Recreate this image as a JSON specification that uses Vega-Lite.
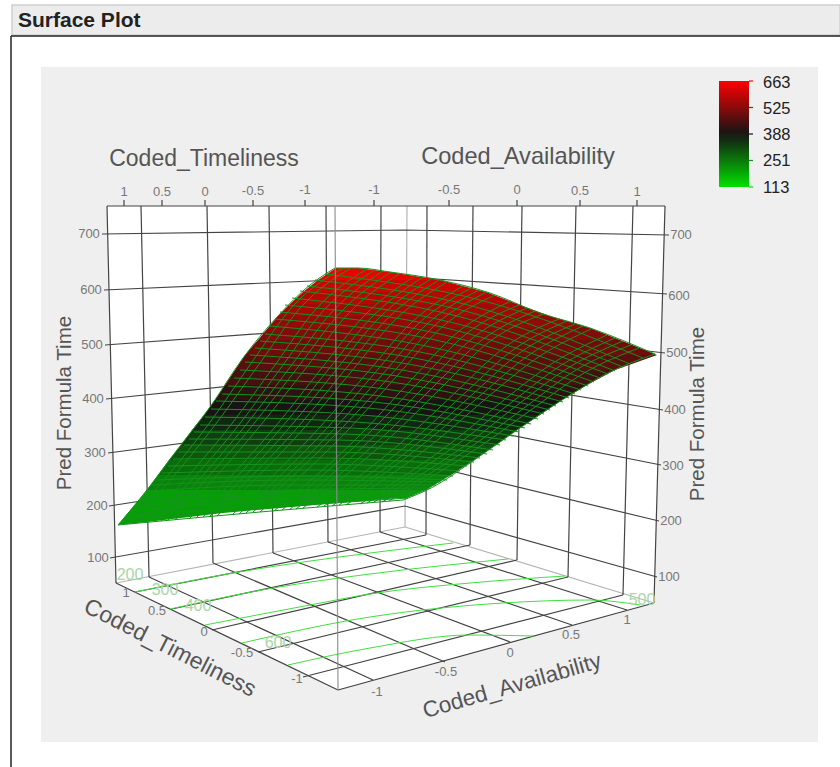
{
"$schema":"https://vega.github.io/schema/vega-lite/v6.json",
"width":840,"height":767,"padding":0,"autosize":{"type":"none"},
"background":"white",
"config":{"view":{"stroke":null},"font":"Liberation Sans"},
"datasets":{
"dark":[
{"x":116,"y":583,"x2":338,"y2":690},{"x":338,"y":690,"x2":654,"y2":603},{"x":107,"y":206,"x2":665,"y2":206},{"x":665,"y":206,"x2":654,"y2":603},{"x":107,"y":206,"x2":116,"y2":583},
{"x":141,"y":206,"x2":149,"y2":577},{"x":207,"y":206,"x2":213,"y2":563},{"x":269,"y":206,"x2":273,"y2":553},{"x":326,"y":206,"x2":328,"y2":542},{"x":381,"y":206,"x2":380,"y2":532},
{"x":427,"y":206,"x2":426,"y2":535},{"x":473,"y":206,"x2":470,"y2":545},{"x":522,"y":206,"x2":517,"y2":560},{"x":576,"y":206,"x2":568,"y2":577},{"x":633,"y":206,"x2":623,"y2":595},
{"x":373,"y":680,"x2":149,"y2":577},{"x":445,"y":662,"x2":213,"y2":563},{"x":510,"y":642,"x2":273,"y2":553},{"x":572,"y":625,"x2":328,"y2":542},{"x":627,"y":610,"x2":380,"y2":532},
{"x":135,"y":592,"x2":426,"y2":535},{"x":172,"y":609,"x2":470,"y2":545},{"x":212,"y":630,"x2":517,"y2":560},{"x":258,"y":652,"x2":568,"y2":577},{"x":303,"y":677,"x2":623,"y2":595},
{"x":124,"y":200,"x2":124,"y2":206},{"x":162,"y":200,"x2":162,"y2":206},{"x":205,"y":200,"x2":205,"y2":206},{"x":253,"y":200,"x2":253,"y2":206},{"x":305,"y":200,"x2":305,"y2":206},{"x":374,"y":200,"x2":374,"y2":206},{"x":449,"y":200,"x2":449,"y2":206},{"x":517,"y":200,"x2":517,"y2":206},{"x":580,"y":200,"x2":580,"y2":206},{"x":637,"y":200,"x2":637,"y2":206}
],
"wall":[
{"g":7,"x":102,"y":234},{"g":7,"x":405,"y":230},{"g":7,"x":669,"y":235},
{"g":6,"x":104,"y":290},{"g":6,"x":405,"y":277},{"g":6,"x":667,"y":294},
{"g":5,"x":105,"y":345},{"g":5,"x":405,"y":323},{"g":5,"x":665,"y":353},
{"g":4,"x":106,"y":399},{"g":4,"x":405,"y":368},{"g":4,"x":663,"y":410},
{"g":3,"x":108,"y":453},{"g":3,"x":405,"y":414},{"g":3,"x":661,"y":465},
{"g":2,"x":109,"y":506},{"g":2,"x":405,"y":460},{"g":2,"x":659,"y":521},
{"g":1,"x":110,"y":558},{"g":1,"x":405,"y":506},{"g":1,"x":657,"y":577}
],
"grey":[
{"x":407,"y":206,"x2":405,"y2":527},{"x":116,"y":583,"x2":405,"y2":527},{"x":405,"y":527,"x2":654,"y2":603}
],
"contour":[
{"g":200,"x":135,"y":592},{"g":200,"x":233,"y":573},{"g":200,"x":370,"y":553},{"g":200,"x":453,"y":543},
{"g":300,"x":170,"y":609},{"g":300,"x":273,"y":588},{"g":300,"x":370,"y":574},{"g":300,"x":508,"y":559},
{"g":400,"x":205,"y":625},{"g":400,"x":310,"y":605},{"g":400,"x":370,"y":594},{"g":400,"x":470,"y":583},{"g":400,"x":565,"y":576},
{"g":500,"x":242,"y":643},{"g":500,"x":370,"y":617},{"g":500,"x":503,"y":603},{"g":500,"x":590,"y":600},{"g":500,"x":640,"y":605},
{"g":600,"x":288,"y":665},{"g":600,"x":370,"y":648},{"g":600,"x":470,"y":635},{"g":600,"x":533,"y":636}
],
"bands":[
{"b":1,"v":640,"x":318,"y":280,"y2":280},{"b":1,"v":640,"x":336,"y":268,"y2":280},{"b":1,"v":640,"x":358,"y":268,"y2":280},{"b":1,"v":640,"x":390,"y":272,"y2":280},{"b":1,"v":640,"x":440,"y":280,"y2":280},
{"b":2,"v":600,"x":303,"y":292,"y2":292},{"b":2,"v":600,"x":318,"y":280,"y2":292},{"b":2,"v":600,"x":440,"y":280,"y2":292},{"b":2,"v":600,"x":486,"y":292,"y2":292},
{"b":3,"v":578,"x":290,"y":304,"y2":304},{"b":3,"v":578,"x":303,"y":292,"y2":304},{"b":3,"v":578,"x":486,"y":292,"y2":304},{"b":3,"v":578,"x":517,"y":304,"y2":304},
{"b":4,"v":558,"x":278,"y":316,"y2":316},{"b":4,"v":558,"x":290,"y":304,"y2":316},{"b":4,"v":558,"x":517,"y":304,"y2":316},{"b":4,"v":558,"x":550,"y":316,"y2":316},
{"b":5,"v":538,"x":268,"y":328,"y2":328},{"b":5,"v":538,"x":278,"y":316,"y2":328},{"b":5,"v":538,"x":550,"y":316,"y2":328},{"b":5,"v":538,"x":590,"y":328,"y2":328},
{"b":6,"v":517,"x":258,"y":340,"y2":340},{"b":6,"v":517,"x":268,"y":328,"y2":340},{"b":6,"v":517,"x":590,"y":328,"y2":340},{"b":6,"v":517,"x":620,"y":340,"y2":340},
{"b":7,"v":495,"x":245,"y":355,"y2":355},{"b":7,"v":495,"x":258,"y":340,"y2":355},{"b":7,"v":495,"x":620,"y":340,"y2":355},{"b":7,"v":495,"x":657,"y":355,"y2":355},
{"b":8,"v":470,"x":235,"y":370,"y2":370},{"b":8,"v":470,"x":245,"y":355,"y2":370},{"b":8,"v":470,"x":615,"y":355,"y2":370},{"b":8,"v":470,"x":657,"y":355,"y2":355},
{"b":9,"v":444,"x":225,"y":385,"y2":385},{"b":9,"v":444,"x":235,"y":370,"y2":385},{"b":9,"v":444,"x":587,"y":370,"y2":385},{"b":9,"v":444,"x":615,"y":370,"y2":370},
{"b":10,"v":419,"x":215,"y":400,"y2":400},{"b":10,"v":419,"x":225,"y":385,"y2":400},{"b":10,"v":419,"x":562,"y":385,"y2":400},{"b":10,"v":419,"x":587,"y":385,"y2":385},
{"b":11,"v":393,"x":204,"y":415,"y2":415},{"b":11,"v":393,"x":215,"y":400,"y2":415},{"b":11,"v":393,"x":540,"y":400,"y2":415},{"b":11,"v":393,"x":562,"y":400,"y2":400},
{"b":12,"v":363,"x":192,"y":430,"y2":430},{"b":12,"v":363,"x":204,"y":415,"y2":430},{"b":12,"v":363,"x":517,"y":415,"y2":430},{"b":12,"v":363,"x":540,"y":415,"y2":415},
{"b":13,"v":332,"x":181,"y":445,"y2":445},{"b":13,"v":332,"x":192,"y":430,"y2":445},{"b":13,"v":332,"x":496,"y":430,"y2":445},{"b":13,"v":332,"x":517,"y":430,"y2":430},
{"b":14,"v":301,"x":169,"y":460,"y2":460},{"b":14,"v":301,"x":181,"y":445,"y2":460},{"b":14,"v":301,"x":474,"y":445,"y2":460},{"b":14,"v":301,"x":496,"y":445,"y2":445},
{"b":15,"v":270,"x":158,"y":475,"y2":475},{"b":15,"v":270,"x":169,"y":460,"y2":475},{"b":15,"v":270,"x":451,"y":460,"y2":475},{"b":15,"v":270,"x":474,"y":460,"y2":460},
{"b":16,"v":239,"x":147,"y":490,"y2":490},{"b":16,"v":239,"x":158,"y":475,"y2":490},{"b":16,"v":239,"x":426,"y":475,"y2":490},{"b":16,"v":239,"x":451,"y":475,"y2":475},
{"b":17,"v":200,"x":118,"y":525,"y2":525},{"b":17,"v":200,"x":147,"y":490,"y2":522},{"b":17,"v":200,"x":223,"y":490,"y2":513},{"b":17,"v":200,"x":337,"y":490,"y2":503},{"b":17,"v":200,"x":400,"y":490,"y2":498},{"b":17,"v":200,"x":407,"y":490,"y2":498},{"b":17,"v":200,"x":426,"y":490,"y2":490}
],
"mesh":[
{"g":0,"x":118,"y":525},{"g":0,"x":260,"y":512},{"g":0,"x":403,"y":500},
{"g":1,"x":128,"y":514},{"g":1,"x":270,"y":503},{"g":1,"x":414,"y":495},
{"g":2,"x":138,"y":503},{"g":2,"x":281,"y":494},{"g":2,"x":425,"y":490},
{"g":3,"x":147,"y":491},{"g":3,"x":291,"y":485},{"g":3,"x":436,"y":485},
{"g":4,"x":157,"y":480},{"g":4,"x":302,"y":476},{"g":4,"x":447,"y":480},
{"g":5,"x":168,"y":466},{"g":5,"x":314,"y":464},{"g":5,"x":460,"y":471},
{"g":6,"x":179,"y":452},{"g":6,"x":326,"y":452},{"g":6,"x":474,"y":462},
{"g":7,"x":189,"y":439},{"g":7,"x":338,"y":440},{"g":7,"x":487,"y":454},
{"g":8,"x":200,"y":425},{"g":8,"x":350,"y":428},{"g":8,"x":500,"y":445},
{"g":9,"x":211,"y":409},{"g":9,"x":362,"y":415},{"g":9,"x":513,"y":436},
{"g":10,"x":222,"y":394},{"g":10,"x":374,"y":402},{"g":10,"x":525,"y":428},
{"g":11,"x":234,"y":378},{"g":11,"x":385,"y":389},{"g":11,"x":538,"y":419},
{"g":12,"x":245,"y":362},{"g":12,"x":397,"y":376},{"g":12,"x":550,"y":410},
{"g":13,"x":255,"y":348},{"g":13,"x":408,"y":364},{"g":13,"x":563,"y":402},
{"g":14,"x":265,"y":334},{"g":14,"x":420,"y":352},{"g":14,"x":575,"y":394},
{"g":15,"x":275,"y":319},{"g":15,"x":431,"y":339},{"g":15,"x":588,"y":386},
{"g":16,"x":285,"y":305},{"g":16,"x":442,"y":327},{"g":16,"x":600,"y":378},
{"g":17,"x":292,"y":298},{"g":17,"x":450,"y":322},{"g":17,"x":608,"y":374},
{"g":18,"x":300,"y":291},{"g":18,"x":457,"y":316},{"g":18,"x":615,"y":371},
{"g":19,"x":307,"y":286},{"g":19,"x":465,"y":311},{"g":19,"x":623,"y":367},
{"g":20,"x":315,"y":280},{"g":20,"x":472,"y":306},{"g":20,"x":630,"y":364},
{"g":22,"x":325,"y":274},{"g":22,"x":484,"y":301},{"g":22,"x":643,"y":358},
{"g":30,"x":123,"y":520},{"g":30,"x":265,"y":508},{"g":30,"x":408,"y":498},
{"g":31,"x":133,"y":508},{"g":31,"x":275,"y":498},{"g":31,"x":420,"y":492},
{"g":32,"x":142,"y":497},{"g":32,"x":286,"y":490},{"g":32,"x":430,"y":488},
{"g":33,"x":152,"y":485},{"g":33,"x":296,"y":480},{"g":33,"x":441,"y":482},
{"g":34,"x":162,"y":473},{"g":34,"x":308,"y":470},{"g":34,"x":453,"y":476},
{"g":35,"x":173,"y":459},{"g":35,"x":320,"y":458},{"g":35,"x":467,"y":466},
{"g":36,"x":184,"y":445},{"g":36,"x":332,"y":446},{"g":36,"x":480,"y":458},
{"g":37,"x":194,"y":432},{"g":37,"x":344,"y":434},{"g":37,"x":493,"y":450},
{"g":38,"x":205,"y":417},{"g":38,"x":356,"y":422},{"g":38,"x":506,"y":440},
{"g":39,"x":216,"y":401},{"g":39,"x":368,"y":408},{"g":39,"x":519,"y":432},
{"g":40,"x":228,"y":386},{"g":40,"x":380,"y":396},{"g":40,"x":531,"y":424},
{"g":41,"x":240,"y":370},{"g":41,"x":391,"y":382},{"g":41,"x":544,"y":414},
{"g":42,"x":250,"y":355},{"g":42,"x":402,"y":370},{"g":42,"x":556,"y":406},
{"g":43,"x":260,"y":341},{"g":43,"x":414,"y":358},{"g":43,"x":569,"y":398},
{"g":44,"x":270,"y":326},{"g":44,"x":426,"y":346},{"g":44,"x":581,"y":390},
{"g":45,"x":280,"y":312},{"g":45,"x":436,"y":333},{"g":45,"x":594,"y":382},
{"g":100,"x":118,"y":525},{"g":100,"x":143,"y":495},{"g":100,"x":177,"y":450},{"g":100,"x":210,"y":407},{"g":100,"x":243,"y":358},{"g":100,"x":277,"y":317},{"g":100,"x":310,"y":285},{"g":100,"x":335,"y":268},
{"g":101,"x":132,"y":524},{"g":101,"x":215,"y":425},{"g":101,"x":260,"y":363},{"g":101,"x":301,"y":307},{"g":101,"x":351,"y":268},
{"g":102,"x":146,"y":522},{"g":102,"x":230,"y":426},{"g":102,"x":275,"y":365},{"g":102,"x":316,"y":309},{"g":102,"x":367,"y":269},
{"g":103,"x":161,"y":521},{"g":103,"x":245,"y":426},{"g":103,"x":291,"y":366},{"g":103,"x":332,"y":312},{"g":103,"x":383,"y":271},
{"g":104,"x":175,"y":520},{"g":104,"x":260,"y":426},{"g":104,"x":306,"y":368},{"g":104,"x":348,"y":314},{"g":104,"x":399,"y":274},
{"g":105,"x":189,"y":519},{"g":105,"x":275,"y":427},{"g":105,"x":321,"y":369},{"g":105,"x":364,"y":316},{"g":105,"x":415,"y":276},
{"g":106,"x":203,"y":517},{"g":106,"x":290,"y":427},{"g":106,"x":336,"y":370},{"g":106,"x":379,"y":318},{"g":106,"x":431,"y":279},
{"g":107,"x":217,"y":516},{"g":107,"x":305,"y":427},{"g":107,"x":351,"y":372},{"g":107,"x":395,"y":320},{"g":107,"x":447,"y":282},
{"g":108,"x":232,"y":515},{"g":108,"x":320,"y":427},{"g":108,"x":367,"y":373},{"g":108,"x":411,"y":323},{"g":108,"x":463,"y":286},
{"g":109,"x":246,"y":513},{"g":109,"x":335,"y":428},{"g":109,"x":382,"y":375},{"g":109,"x":426,"y":325},{"g":109,"x":479,"y":290},
{"g":110,"x":260,"y":512},{"g":110,"x":350,"y":428},{"g":110,"x":397,"y":376},{"g":110,"x":442,"y":327},{"g":110,"x":495,"y":295},
{"g":111,"x":274,"y":511},{"g":111,"x":365,"y":430},{"g":111,"x":412,"y":379},{"g":111,"x":458,"y":332},{"g":111,"x":511,"y":301},
{"g":112,"x":289,"y":510},{"g":112,"x":380,"y":431},{"g":112,"x":428,"y":383},{"g":112,"x":474,"y":337},{"g":112,"x":527,"y":308},
{"g":113,"x":303,"y":508},{"g":113,"x":395,"y":433},{"g":113,"x":443,"y":386},{"g":113,"x":489,"y":342},{"g":113,"x":543,"y":314},
{"g":114,"x":317,"y":507},{"g":114,"x":410,"y":435},{"g":114,"x":458,"y":390},{"g":114,"x":505,"y":347},{"g":114,"x":559,"y":319},
{"g":115,"x":332,"y":506},{"g":115,"x":425,"y":437},{"g":115,"x":474,"y":393},{"g":115,"x":521,"y":352},{"g":115,"x":575,"y":324},
{"g":116,"x":346,"y":505},{"g":116,"x":440,"y":438},{"g":116,"x":489,"y":396},{"g":116,"x":537,"y":358},{"g":116,"x":591,"y":329},
{"g":117,"x":360,"y":504},{"g":117,"x":455,"y":440},{"g":117,"x":504,"y":400},{"g":117,"x":553,"y":363},{"g":117,"x":607,"y":335},
{"g":118,"x":374,"y":502},{"g":118,"x":470,"y":442},{"g":118,"x":520,"y":403},{"g":118,"x":568,"y":368},{"g":118,"x":623,"y":341},
{"g":119,"x":389,"y":501},{"g":119,"x":485,"y":443},{"g":119,"x":535,"y":407},{"g":119,"x":584,"y":373},{"g":119,"x":639,"y":348},
{"g":120,"x":403,"y":500},{"g":120,"x":433,"y":487},{"g":120,"x":470,"y":463},{"g":120,"x":517,"y":430},{"g":120,"x":570,"y":395},{"g":120,"x":610,"y":372},{"g":120,"x":655,"y":354},
{"g":150,"x":125,"y":524},{"g":150,"x":208,"y":425},{"g":150,"x":252,"y":362},{"g":150,"x":293,"y":306},{"g":150,"x":343,"y":268},
{"g":152,"x":153,"y":521},{"g":152,"x":238,"y":426},{"g":152,"x":283,"y":365},{"g":152,"x":324,"y":310},{"g":152,"x":375,"y":270},
{"g":153,"x":168,"y":520},{"g":153,"x":252,"y":426},{"g":153,"x":298,"y":367},{"g":153,"x":340,"y":313},{"g":153,"x":391,"y":272},
{"g":155,"x":196,"y":518},{"g":155,"x":282,"y":427},{"g":155,"x":328,"y":370},{"g":155,"x":372,"y":317},{"g":155,"x":423,"y":277},
{"g":156,"x":210,"y":516},{"g":156,"x":298,"y":427},{"g":156,"x":344,"y":371},{"g":156,"x":387,"y":319},{"g":156,"x":439,"y":280},
{"g":158,"x":239,"y":514},{"g":158,"x":328,"y":427},{"g":158,"x":374,"y":374},{"g":158,"x":418,"y":324},{"g":158,"x":471,"y":288},
{"g":159,"x":253,"y":512},{"g":159,"x":342,"y":428},{"g":159,"x":390,"y":376},{"g":159,"x":434,"y":326},{"g":159,"x":487,"y":292},
{"g":161,"x":282,"y":510},{"g":161,"x":372,"y":430},{"g":161,"x":420,"y":381},{"g":161,"x":466,"y":334},{"g":161,"x":519,"y":305},
{"g":162,"x":296,"y":509},{"g":162,"x":388,"y":432},{"g":162,"x":436,"y":384},{"g":162,"x":482,"y":340},{"g":162,"x":535,"y":311},
{"g":164,"x":324,"y":506},{"g":164,"x":418,"y":436},{"g":164,"x":466,"y":392},{"g":164,"x":513,"y":350},{"g":164,"x":567,"y":321},
{"g":165,"x":339,"y":505},{"g":165,"x":432,"y":437},{"g":165,"x":482,"y":394},{"g":165,"x":529,"y":355},{"g":165,"x":583,"y":326},
{"g":167,"x":367,"y":503},{"g":167,"x":462,"y":441},{"g":167,"x":512,"y":402},{"g":167,"x":560,"y":366},{"g":167,"x":615,"y":338},
{"g":168,"x":382,"y":502},{"g":168,"x":478,"y":442},{"g":168,"x":528,"y":405},{"g":168,"x":576,"y":370},{"g":168,"x":631,"y":345},
{"g":200,"x":335,"y":268},{"g":200,"x":358,"y":268},{"g":200,"x":390,"y":272},{"g":200,"x":440,"y":280},{"g":200,"x":490,"y":293},{"g":200,"x":540,"y":313},{"g":200,"x":590,"y":328},{"g":200,"x":655,"y":354}
],
"ticks":[
{"t":"1","x":124,"y":192},{"t":"0.5","x":162,"y":192},{"t":"0","x":205,"y":192},{"t":"-0.5","x":253,"y":191},{"t":"-1","x":305,"y":190},{"t":"-1","x":374,"y":190},{"t":"-0.5","x":449,"y":190},{"t":"0","x":517,"y":190},{"t":"0.5","x":580,"y":191},{"t":"1","x":637,"y":192},
{"t":"1","x":126,"y":593},{"t":"0.5","x":157,"y":611},{"t":"0","x":204,"y":632},{"t":"-0.5","x":242,"y":653},{"t":"-1","x":297,"y":679},
{"t":"-1","x":377,"y":692},{"t":"-0.5","x":446,"y":672},{"t":"0","x":510,"y":653},{"t":"0.5","x":571,"y":635},{"t":"1","x":627,"y":620},
{"t":"700","x":89,"y":234},{"t":"600","x":91,"y":290},{"t":"500","x":92,"y":345},{"t":"400","x":93,"y":399},{"t":"300","x":95,"y":453},{"t":"200","x":97,"y":506},{"t":"100","x":98,"y":558},
{"t":"700","x":681,"y":235},{"t":"600","x":679,"y":296},{"t":"500","x":677,"y":353},{"t":"400","x":675,"y":410},{"t":"300","x":673,"y":466},{"t":"200","x":671,"y":521},{"t":"100","x":669,"y":577}
],
"floorlabels":[
{"t":"200","x":130,"y":575},{"t":"300","x":165,"y":590},{"t":"400","x":198,"y":606},{"t":"600","x":278,"y":643},{"t":"500","x":642,"y":600}
],
"legendlabels":[
{"t":"663","x":763,"y":83},{"t":"525","x":763,"y":109},{"t":"388","x":763,"y":135},{"t":"251","x":763,"y":161},{"t":"113","x":763,"y":188}
]
},
"encoding":{
"x":{"field":"x","type":"quantitative","scale":{"domain":[0,840],"nice":false,"zero":false},"axis":null},
"y":{"field":"y","type":"quantitative","scale":{"domain":[767,0],"nice":false,"zero":false},"axis":null}
},
"layer":[
{"data":{"values":[{"x":41,"x2":818,"y":67,"y2":742}]},"mark":{"type":"rect","fill":"#efefef"},"encoding":{"x2":{"field":"x2"},"y2":{"field":"y2"}}},
{"data":{"values":[{"x":12,"x2":840,"y":5,"y2":35}]},"mark":{"type":"rect","fill":"#ececec","stroke":"#cfcfcf","strokeWidth":1.5},"encoding":{"x2":{"field":"x2"},"y2":{"field":"y2"}}},
{"data":{"values":[{"x":11,"y":36,"x2":840,"y2":36},{"x":11,"y":36,"x2":11,"y2":767}]},"mark":{"type":"rule","color":"#222222","strokeWidth":1.5},"encoding":{"x2":{"field":"x2"},"y2":{"field":"y2"}}},
{"data":{"values":[{"x":107,"y":206,"y2":206},{"x":116,"y":206,"y2":583},{"x":338,"y":206,"y2":690},{"x":654,"y":206,"y2":603},{"x":665,"y":206,"y2":206}]},"mark":{"type":"area","fill":"white"},"encoding":{"y2":{"field":"y2"}}},
{"data":{"name":"grey"},"mark":{"type":"rule","color":"#b4b4b4","strokeWidth":1.2},"encoding":{"x2":{"field":"x2"},"y2":{"field":"y2"}}},
{"data":{"name":"dark"},"mark":{"type":"rule","color":"#444444","strokeWidth":1.2},"encoding":{"x2":{"field":"x2"},"y2":{"field":"y2"}}},
{"data":{"name":"wall"},"mark":{"type":"line","color":"#444444","strokeWidth":1.2},"encoding":{"detail":{"field":"g"}}},
{"data":{"name":"contour"},"mark":{"type":"line","color":"#3fe03f","strokeWidth":1,"interpolate":"monotone"},"encoding":{"detail":{"field":"g"}}},
{"data":{"name":"bands"},"mark":{"type":"area"},"encoding":{
"y2":{"field":"y2"},"detail":{"field":"b"},
"color":{"field":"v","type":"quantitative","scale":{"domain":[113,388,663],"range":["#00e000","#141414","#ff0000"],"interpolate":"rgb"},"legend":{"type":"gradient","orient":"none","legendX":719,"legendY":81,"title":null,"direction":"vertical","gradientThickness":30,"gradientLength":106,"values":[113,251,388,525,663],"labelExpr":"''","labelOverlap":false,"gradientStrokeWidth":0}}
}},
{"data":{"name":"mesh"},"mark":{"type":"line","color":"#16921e","strokeWidth":1,"interpolate":"monotone"},"encoding":{"detail":{"field":"g"}}},
{"data":{"values":[{"x":335,"y":206,"x2":338,"y2":690}]},"mark":{"type":"rule","color":"#8c8c8c","strokeWidth":1.3,"opacity":0.85},"encoding":{"x2":{"field":"x2"},"y2":{"field":"y2"}}},
{"data":{"values":[{"x":749,"x2":753,"y":81}]},"mark":{"type":"rule","color":"#ff0000","strokeWidth":1.2},"encoding":{"x2":{"field":"x2"}}},
{"data":{"values":[{"x":749,"x2":753,"y":107.5}]},"mark":{"type":"rule","color":"#8a2020","strokeWidth":1.2},"encoding":{"x2":{"field":"x2"}}},
{"data":{"values":[{"x":749,"x2":753,"y":134}]},"mark":{"type":"rule","color":"#141414","strokeWidth":1.2},"encoding":{"x2":{"field":"x2"}}},
{"data":{"values":[{"x":749,"x2":753,"y":160.5}]},"mark":{"type":"rule","color":"#208a20","strokeWidth":1.2},"encoding":{"x2":{"field":"x2"}}},
{"data":{"values":[{"x":749,"x2":753,"y":187}]},"mark":{"type":"rule","color":"#00e000","strokeWidth":1.2},"encoding":{"x2":{"field":"x2"}}},
{"data":{"name":"legendlabels"},"mark":{"type":"text","fontSize":16.5,"color":"#222222","align":"left","baseline":"middle"},"encoding":{"text":{"field":"t"}}},
{"data":{"name":"ticks"},"mark":{"type":"text","fontSize":13,"color":"#777777","align":"center","baseline":"middle"},"encoding":{"text":{"field":"t"}}},
{"data":{"name":"floorlabels"},"mark":{"type":"text","fontSize":16,"color":"#a8d6a8","align":"center","baseline":"middle"},"encoding":{"text":{"field":"t"}}},
{"data":{"values":[{"t":"Surface Plot","x":18,"y":21}]},"mark":{"type":"text","fontSize":21,"fontWeight":"bold","color":"#222222","align":"left","baseline":"middle"},"encoding":{"text":{"field":"t"}}},
{"data":{"values":[{"t":"Coded_Timeliness","x":204,"y":159}]},"mark":{"type":"text","fontSize":23,"color":"#555555","align":"center","baseline":"middle"},"encoding":{"text":{"field":"t"}}},
{"data":{"values":[{"t":"Coded_Availability","x":518,"y":157}]},"mark":{"type":"text","fontSize":23.6,"color":"#555555","align":"center","baseline":"middle"},"encoding":{"text":{"field":"t"}}},
{"data":{"values":[{"t":"Pred Formula Time","x":65,"y":403},{"t":"Pred Formula Time","x":698,"y":414}]},"mark":{"type":"text","fontSize":20.5,"angle":270,"color":"#555555","align":"center","baseline":"middle"},"encoding":{"text":{"field":"t"}}},
{"data":{"values":[{"t":"Coded_Timeliness","x":170,"y":648}]},"mark":{"type":"text","fontSize":23,"angle":27,"color":"#555555","align":"center","baseline":"middle"},"encoding":{"text":{"field":"t"}}},
{"data":{"values":[{"t":"Coded_Availability","x":512,"y":686}]},"mark":{"type":"text","fontSize":22.5,"angle":344,"color":"#555555","align":"center","baseline":"middle"},"encoding":{"text":{"field":"t"}}}
]
}
